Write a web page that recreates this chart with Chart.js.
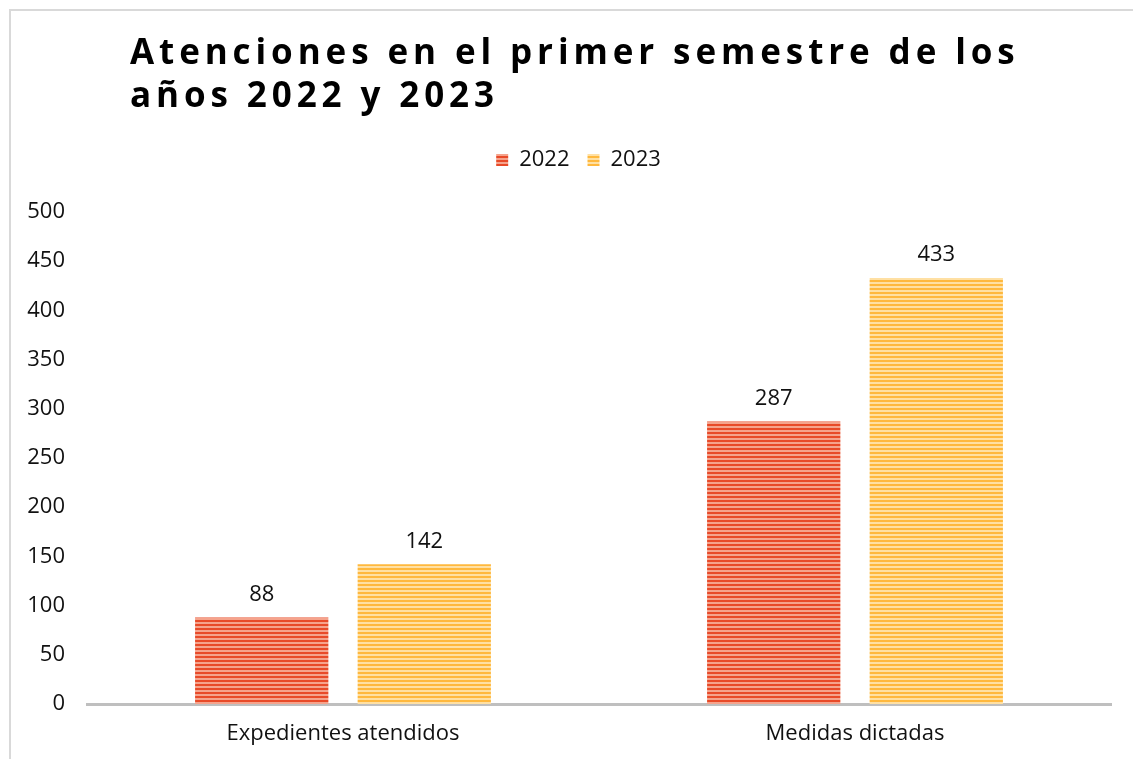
<!DOCTYPE html>
<html>
<head>
<meta charset="utf-8">
<script src="https://cdn.jsdelivr.net/npm/chart.js@4"></script>
<style>
	body { margin: 0; background: #fff; }
	#wrap { position: relative; width: 1133px; height: 759px; overflow: hidden; }
	#frame { position: absolute; left: 9px; top: 9px; width: 1200px; height: 800px; border: 2px solid #d9d9d9; box-sizing: border-box; }
	#title { position: absolute; left: 130px; top: 29px; font: bold 35px 'Open Sans', sans-serif; letter-spacing: 4.9px; line-height: 43px; color: #000; }
	canvas { position: absolute; left: 0; top: 0; }
</style>
</head>
<body>
<div id="wrap">
	<div id="frame"></div>
	<canvas id="chart" width="1133" height="759"></canvas>
	<div id="title">Atenciones en el primer semestre de los<br>años 2022 y 2023</div>
</div>
<script>
var categories = ['Expedientes atendidos', 'Medidas dictadas'];
var years = ['2022', '2023'];
var values2022 = [88, 287];
var values2023 = [142, 433];
var yTicks = [0, 50, 100, 150, 200, 250, 300, 350, 400, 450, 500];

var font = "'Open Sans', sans-serif";

// striped fill like the original bars
function stripes(dark, light){
	var c = document.createElement('canvas');
	c.width = 8;
	c.height = 4;
	var g = c.getContext('2d');
	g.fillStyle = light;
	g.fillRect(0, 0, 8, 4);
	g.fillStyle = dark;
	g.fillRect(0, 0, 8, 2);
	return g.createPattern(c, 'repeat');
}

var red = stripes('#e84a28', '#f5a38c');
var orange = stripes('#ffb83d', '#ffe0a3');

var valueLabels = {
	id: 'valueLabels',
	afterDatasetsDraw: (ch) => {
		var ctx = ch.ctx;
		ctx.save();
		ctx.font = '22px ' + font;
		ctx.fillStyle = '#111';
		ctx.textAlign = 'center';
		ctx.textBaseline = 'bottom';
		ch.data.datasets.forEach((ds, i) => {
			ch.getDatasetMeta(i).data.forEach((bar, j) => {
				ctx.fillText(ds.data[j], bar.x, bar.y - 12);
			});
		});
		ctx.restore();
	}
};

// extra room under the legend, and nudge it right a bit
var legendGap = {
	id: 'legendGap',
	beforeInit: (ch) => {
		var fit = ch.legend.fit;
		ch.legend.fit = function(){
			fit.bind(ch.legend)();
			this.height += 31;
		};
	},
	afterLayout: (ch) => {
		ch.legend.left += 23;
		ch.legend.right += 23;
	}
};

var chart = new Chart(document.getElementById('chart'), {
	type: 'bar',
	data: {
		labels: categories,
		datasets: [{
			label: years[0],
			data: values2022,
			backgroundColor: red,
		}, {
			label: years[1],
			data: values2023,
			backgroundColor: orange,
		}]
	},
	options: {
		responsive: false,
		animation: false,
		categoryPercentage: 0.635,
		barPercentage: 0.82,
		layout: { padding: { top: 131, right: 22, left: 0, bottom: 0 } },
		plugins: {
			tooltip: { enabled: false },
			legend: {
				position: 'top',
				labels: {
					font: { family: font, size: 22 },
					color: '#111',
					boxWidth: 12,
					boxHeight: 12,
					padding: 18,
				}
			}
		},
		scales: {
			x: {
				grid: { display: false, drawTicks: false },
				border: { color: '#bfbfbf', width: 3 },
				ticks: { font: { family: font, size: 22 }, color: '#111', padding: 17 },
				afterFit: (s) => { s.height = 55; }
			},
			y: {
				min: 0,
				max: 500,
				afterBuildTicks: (s) => { s.ticks = yTicks.map(v => ({ value: v })); },
				grid: { display: false, drawTicks: false },
				border: { display: false },
				ticks: { font: { family: font, size: 22 }, color: '#111', padding: 22 },
				afterFit: (s) => { s.width = 87; }
			}
		}
	},
	plugins: [valueLabels, legendGap]
});
</script>
</body>
</html>
